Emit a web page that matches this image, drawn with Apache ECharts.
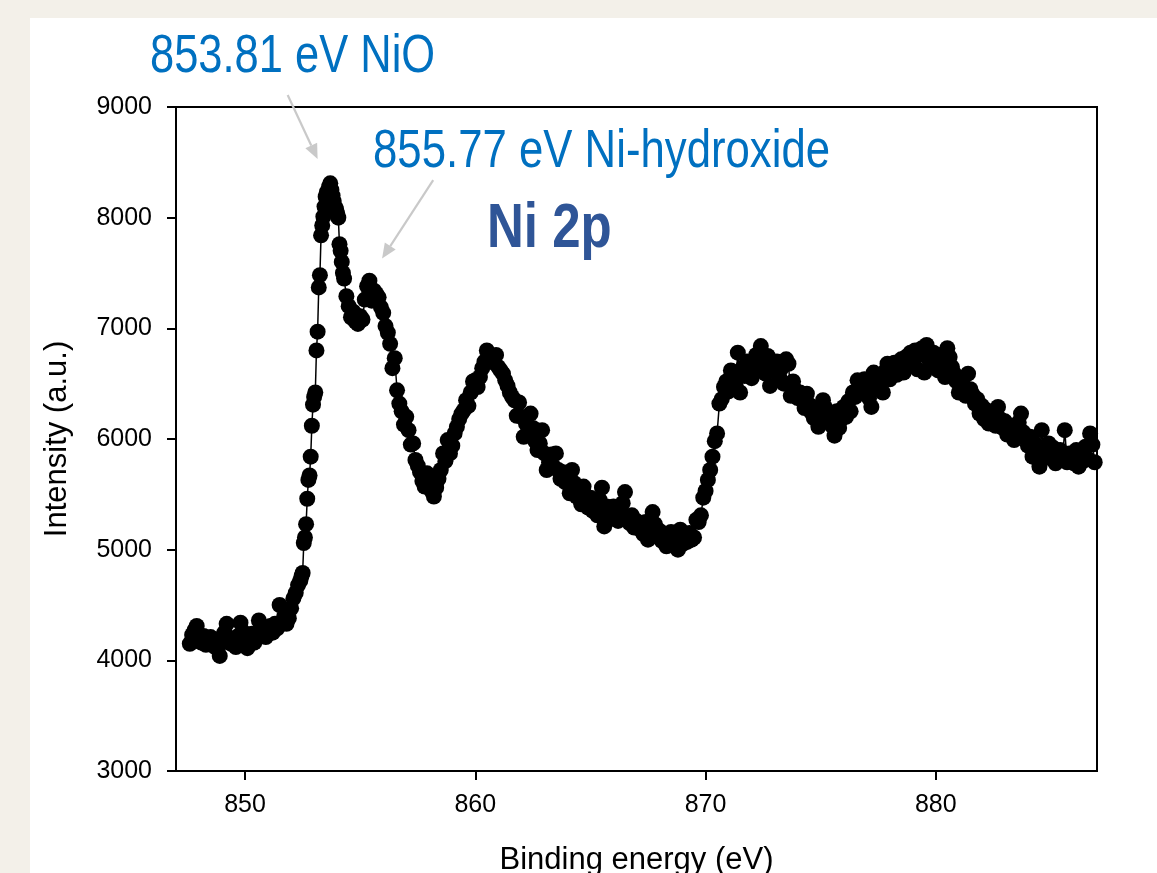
<!DOCTYPE html>
<html>
<head>
<meta charset="utf-8">
<script src="https://cdn.jsdelivr.net/npm/echarts@6/dist/echarts.min.js"></script>
<style>
  html, body { margin: 0; padding: 0; background: #f3f0e9; overflow: hidden; }
  #panel { position: absolute; left: 30px; top: 18px; right: 0; bottom: 0; background: #ffffff; }
  #chart { position: absolute; left: 0; top: 0; width: 1157px; height: 873px; }
</style>
</head>
<body>
<div id="panel"></div>
<div id="chart"></div>
<script>
// ---- data (binding energy in eV, intensity in a.u.) ----
const energy = [
  847.6,847.7,847.8,847.9,848.0,848.1,848.2,848.3,848.4,848.5,848.6,848.7,848.8,848.9,
  849.0,849.1,849.2,849.3,849.4,849.5,849.6,849.7,849.8,849.9,
  850.0,850.1,850.2,850.3,850.4,850.5,850.6,850.7,850.8,850.9,
  851.0,851.1,851.2,851.3,851.4,851.5,851.6,851.7,851.8,851.9,
  852.0,852.1,852.2,852.3,852.4,852.45,852.5,852.55,852.6,852.65,852.7,852.75,852.8,852.85,852.9,852.95,
  853.0,853.05,853.1,853.15,853.2,853.25,853.3,853.35,853.4,853.45,853.5,853.55,853.6,853.65,853.7,853.75,853.8,853.85,853.9,853.95,
  854.0,854.05,854.1,854.15,854.2,854.25,854.3,854.4,854.5,854.6,854.7,854.8,854.9,
  855.0,855.1,855.2,855.3,855.4,855.5,855.6,855.7,855.8,855.9,
  856.0,856.1,856.2,856.3,856.4,856.5,856.6,856.7,856.8,856.9,
  857.0,857.1,857.2,857.3,857.4,857.5,857.6,857.7,857.8,857.9,
  858.0,858.1,858.2,858.3,858.4,858.5,858.6,858.7,858.8,858.9,
  859.0,859.1,859.2,859.3,859.4,859.5,859.6,859.7,859.8,859.9,
  860.0,860.1,860.2,860.3,860.4,860.5,860.6,860.7,860.8,860.9,
  861.0,861.1,861.2,861.3,861.4,861.5,861.6,861.7,861.8,861.9,
  862.0,862.1,862.2,862.3,862.4,862.5,862.6,862.7,862.8,862.9,
  863.0,863.1,863.2,863.3,863.4,863.5,863.6,863.7,863.8,863.9,
  864.0,864.1,864.2,864.3,864.4,864.5,864.6,864.7,864.8,864.9,
  865.0,865.1,865.2,865.3,865.4,865.5,865.6,865.7,865.8,865.9,
  866.0,866.1,866.2,866.3,866.4,866.5,866.6,866.7,866.8,866.9,
  867.0,867.1,867.2,867.3,867.4,867.5,867.6,867.7,867.8,867.9,
  868.0,868.1,868.2,868.3,868.4,868.5,868.6,868.7,868.8,868.9,
  869.0,869.1,869.2,869.3,869.4,869.5,869.6,869.7,869.8,869.9,
  870.0,870.1,870.2,870.3,870.4,870.5,870.6,870.7,870.8,870.9,
  871.0,871.1,871.2,871.3,871.4,871.5,871.6,871.7,871.8,871.9,
  872.0,872.1,872.2,872.3,872.4,872.5,872.6,872.7,872.8,872.9,
  873.0,873.1,873.2,873.3,873.4,873.5,873.6,873.7,873.8,873.9,
  874.0,874.1,874.2,874.3,874.4,874.5,874.6,874.7,874.8,874.9,
  875.0,875.1,875.2,875.3,875.4,875.5,875.6,875.7,875.8,875.9,
  876.0,876.1,876.2,876.3,876.4,876.5,876.6,876.7,876.8,876.9,
  877.0,877.1,877.2,877.3,877.4,877.5,877.6,877.7,877.8,877.9,
  878.0,878.1,878.2,878.3,878.4,878.5,878.6,878.7,878.8,878.9,
  879.0,879.1,879.2,879.3,879.4,879.5,879.6,879.7,879.8,879.9,
  880.0,880.1,880.2,880.3,880.4,880.5,880.6,880.7,880.8,880.9,
  881.0,881.1,881.2,881.3,881.4,881.5,881.6,881.7,881.8,881.9,
  882.0,882.1,882.2,882.3,882.4,882.5,882.6,882.7,882.8,882.9,
  883.0,883.1,883.2,883.3,883.4,883.5,883.6,883.7,883.8,883.9,
  884.0,884.1,884.2,884.3,884.4,884.5,884.6,884.7,884.8,884.9,
  885.0,885.1,885.2,885.3,885.4,885.5,885.6,885.7,885.8,885.9,
  886.0,886.1,886.2,886.3,886.4,886.5,886.6,886.7,886.8,886.9
];
const intensity = [
  4150,4230,4270,4310,4200,4160,4220,4140,4180,4210,4150,4120,4190,4040,
  4160,4250,4330,4200,4150,4180,4120,4220,4340,4260,
  4150,4110,4180,4240,4160,4200,4360,4250,4300,4210,
  4260,4310,4250,4330,4290,4500,4340,4400,4330,4380,
  4470,4560,4610,4680,4720,4760,4790,5060,5110,5230,5460,5630,5670,5840,6120,6310,
  6380,6420,6800,6970,7370,7480,7840,7930,8010,8100,8190,8230,8120,8280,8310,8250,8200,8150,8100,8080,
  8040,8000,7760,7700,7600,7500,7450,7290,7200,7100,7150,7060,7040,
  7110,7080,7260,7380,7430,7250,7340,7310,7280,7190,
  7140,7020,6960,6860,6640,6730,6440,6320,6250,6130,
  6200,6080,5950,5960,5810,5760,5700,5620,5570,5690,
  5600,5530,5480,5560,5640,5720,5870,5800,5990,5870,
  5940,6050,6110,6180,6230,6260,6350,6300,6420,6520,
  6530,6470,6560,6640,6700,6800,6760,6720,6690,6760,
  6650,6620,6590,6530,6480,6420,6380,6350,6210,6330,
  6200,6020,6140,6040,6230,6100,5980,5900,5960,6080,
  5870,5720,5790,5860,5750,5870,5720,5640,5700,5610,
  5660,5510,5720,5600,5480,5530,5410,5570,5450,5380,
  5470,5350,5420,5310,5450,5560,5210,5390,5330,5280,
  5390,5300,5260,5380,5420,5520,5290,5240,5310,5200,
  5260,5190,5230,5140,5250,5090,5180,5340,5230,5120,
  5170,5080,5140,5030,5100,5160,5060,5120,5000,5180,
  5050,5120,5070,5150,5090,5110,5270,5250,5310,5470,
  5530,5630,5720,5840,5980,6050,6320,6360,6470,6520,
  6430,6620,6560,6490,6780,6420,6640,6570,6700,6620,
  6550,6680,6760,6640,6840,6700,6590,6750,6480,6680,
  6610,6700,6560,6640,6500,6720,6680,6390,6520,6440,
  6370,6420,6350,6280,6410,6310,6240,6190,6270,6110,
  6220,6350,6280,6160,6230,6120,6030,6250,6100,6180,
  6290,6200,6340,6250,6420,6380,6530,6460,6420,6540,
  6480,6370,6290,6600,6520,6450,6560,6420,6610,6680,
  6540,6620,6690,6580,6650,6720,6600,6740,6680,6780,
  6700,6800,6630,6760,6820,6600,6850,6720,6660,6780,
  6700,6620,6760,6680,6560,6820,6740,6650,6590,6520,
  6420,6550,6480,6390,6590,6450,6400,6320,6360,6230,
  6300,6180,6260,6140,6220,6170,6120,6290,6180,6100,
  6160,6040,6120,6070,5990,6100,6150,6230,6060,6010,
  5940,6020,5840,5960,5880,5750,6080,5900,5830,5960,
  5870,5920,5780,5850,5900,5820,6080,5790,5870,5820,
  5780,5900,5750,5860,5800,5930,5820,6050,5950,5790
];
const xTickValues = [850, 860, 870, 880];
const yMin = 3000, yMax = 9000, yStep = 1000;
const xMin = 847, xMax = 887;

const xTitle = 'Binding energy (eV)';
const yTitle = 'Intensity (a.u.)';
const chartTitle = 'Ni 2p';
const annotations = [
  { text: '853.81 eV NiO', from: [851.85, 9108], to: [853.15, 8530] },
  { text: '855.77 eV Ni-hydroxide', from: [858.17, 8340], to: [855.95, 7630] }
];

const seriesData = energy.map((e, i) => [e, intensity[i]]);

const chart = echarts.init(document.getElementById('chart'), null, { renderer: 'canvas', width: 1157, height: 873 });
const axisFont = '"Liberation Sans", Arial, sans-serif';

chart.setOption({
  animation: false,
  backgroundColor: 'transparent',
  grid: {
    left: 176, right: 60, top: 107, bottom: 102,
    containLabel: false, outerBoundsMode: 'none',
    show: true, borderColor: '#000', borderWidth: 2, backgroundColor: 'transparent'
  },
  xAxis: {
    type: 'value', min: xMin, max: xMax,
    name: xTitle, nameLocation: 'middle', nameGap: 74,
    nameTextStyle: { fontSize: 31, fontFamily: axisFont, color: '#000' },
    axisLine: { show: true, onZero: false, lineStyle: { color: '#000', width: 2 } },
    axisTick: { show: true, inside: false, length: 9, customValues: xTickValues, lineStyle: { color: '#000', width: 2 } },
    axisLabel: { customValues: xTickValues, fontSize: 25, fontFamily: axisFont, color: '#000', margin: 22 },
    splitLine: { show: false }
  },
  yAxis: {
    type: 'value', min: yMin, max: yMax, interval: yStep,
    name: yTitle, nameLocation: 'middle', nameGap: 103, nameRotate: 90,
    nameTextStyle: { fontSize: 31, fontFamily: axisFont, color: '#000' },
    axisLine: { show: true, onZero: false, lineStyle: { color: '#000', width: 2 } },
    axisTick: { show: true, inside: false, length: 9, lineStyle: { color: '#000', width: 2 } },
    axisLabel: { fontSize: 25, fontFamily: axisFont, color: '#000', margin: 24, formatter: v => String(v) },
    splitLine: { show: false }
  },
  series: [{
    type: 'line',
    data: seriesData,
    symbol: 'circle',
    symbolSize: 16,
    showAllSymbol: true,
    itemStyle: { color: '#000' },
    lineStyle: { color: '#000', width: 1.5 },
    clip: false
  }]
});

// annotations positioned from data coordinates
const graphics = [];
function arrow(from, to) {
  const p0 = chart.convertToPixel({ gridIndex: 0 }, from);
  const p1 = chart.convertToPixel({ gridIndex: 0 }, to);
  const dx = p1[0] - p0[0], dy = p1[1] - p0[1];
  const len = Math.hypot(dx, dy);
  const ux = dx / len, uy = dy / len;
  const headL = 15, headW = 6.5;
  const bx = p1[0] - ux * headL, by = p1[1] - uy * headL;
  graphics.push({ type: 'line', shape: { x1: p0[0], y1: p0[1], x2: bx, y2: by }, style: { stroke: '#c9c9c9', lineWidth: 2.2 }, z: 100 });
  graphics.push({ type: 'polygon', shape: { points: [[p1[0], p1[1]], [bx - uy * headW, by + ux * headW], [bx + uy * headW, by - ux * headW]] }, style: { fill: '#c9c9c9' }, z: 100 });
}
annotations.forEach(a => arrow(a.from, a.to));

// condensed look: regular sans scaled horizontally
function label(text, x, yMid, font, fill, sx) {
  graphics.push({
    type: 'text', x: x, y: yMid, scaleX: sx, scaleY: 1, z: 101,
    style: { text: text, x: 0, y: 0, font: font, fill: fill, align: 'left', verticalAlign: 'middle' }
  });
}
label(annotations[0].text, 150, 57, '54px "Liberation Sans", Arial, sans-serif', '#0070c0', 0.805);
label(annotations[1].text, 373, 152, '54px "Liberation Sans", Arial, sans-serif', '#0070c0', 0.81);
label(chartTitle, 487, 230, 'bold 63px "Liberation Sans", Arial, sans-serif', '#2f5597', 0.81);

chart.setOption({ graphic: graphics });
</script>
</body>
</html>
